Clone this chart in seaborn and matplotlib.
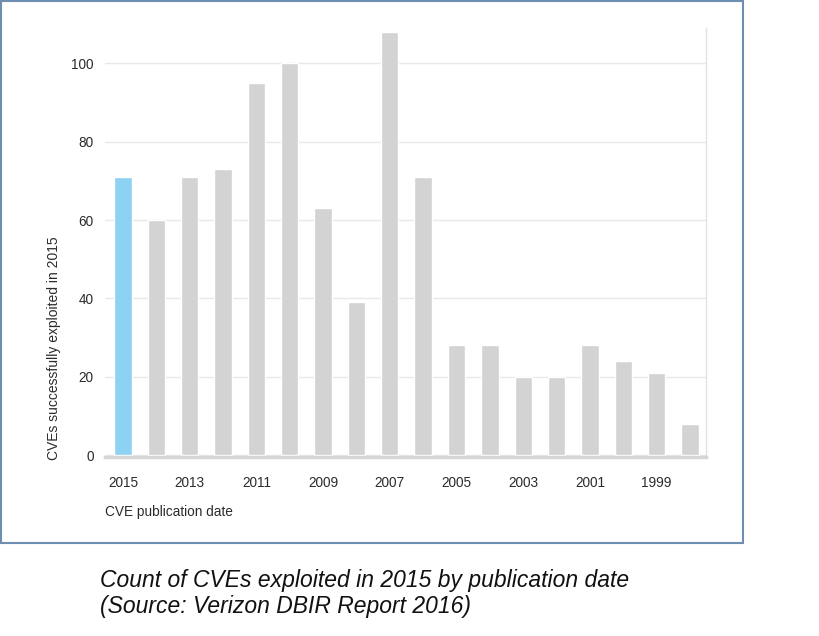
import pandas as pd
import seaborn as sns
import matplotlib.pyplot as plt
from matplotlib.patches import Rectangle

# data
years = [2015, 2014, 2013, 2012, 2011, 2010, 2009, 2008, 2007,
         2006, 2005, 2004, 2003, 2002, 2001, 2000, 1999, 1998]
counts = [71, 60, 71, 73, 95, 100, 63, 39, 108,
          71, 28, 28, 20, 20, 28, 24, 21, 8]
highlight_year = 2015
tick_years = [2015, 2013, 2011, 2009, 2007, 2005, 2003, 2001, 1999]
y_ticks = [0, 20, 40, 60, 80, 100]

df = pd.DataFrame({"year": [str(y) for y in years], "count": counts})
df["group"] = ["current" if y == highlight_year else "older" for y in years]

sns.set_theme(style="white")
plt.rcParams["font.family"] = ["Liberation Sans", "DejaVu Sans"]

fig = plt.figure(figsize=(8.2, 6.36), dpi=100)
ax = fig.add_axes([0.128, 0.2807, 0.733, 0.675])

sns.barplot(data=df, x="year", y="count", hue="group",
            order=[str(y) for y in years],
            palette={"current": "#8dd1f3", "older": "#d3d3d3"},
            saturation=1, width=0.52, dodge=False, legend=False, ax=ax)

ax.set_ylim(-0.6, 109)
ax.set_xlim(-0.54, 17.48)
ax.set_yticks(y_ticks)
ax.yaxis.grid(True, color="#e9e9e9", linewidth=1)
ax.set_axisbelow(True)
ax.set_xticks(range(len(years)))
ax.set_xticklabels([str(y) if y in tick_years else "" for y in years])
ax.tick_params(axis="x", length=0, pad=13, labelsize=9.8, labelcolor="#2b2b2b")
ax.tick_params(axis="y", length=0, pad=8, labelsize=9.8, labelcolor="#2b2b2b")
ax.set_xlabel("")
ax.set_ylabel("")

for side in ["left", "top"]:
    ax.spines[side].set_visible(False)
ax.spines["bottom"].set_color("#d6d6d6")
ax.spines["bottom"].set_linewidth(2.5)
ax.spines["right"].set_color("#e2e2e2")
ax.spines["right"].set_linewidth(1)

# axis titles placed like the source
fig.text(105 / 820, 1 - 512 / 636, "CVE publication date", ha="left", va="center",
         fontsize=9.8, color="#2b2b2b")
fig.text(54 / 820, 1 - 348 / 636, "CVEs successfully exploited in 2015", rotation=90,
         ha="center", va="center", fontsize=10, color="#2b2b2b")

# frame around the chart
fig.patches.append(Rectangle((0.001, (636 - 543) / 636), 742 / 820, 543 / 636 - 0.002,
                             transform=fig.transFigure, fill=False,
                             edgecolor="#6f8db0", linewidth=1.5))

# caption below the frame
fig.text(100 / 820, 1 - 580 / 636, "Count of CVEs exploited in 2015 by publication date",
         ha="left", va="center", fontsize=16.5, style="italic", color="#111111")
fig.text(100 / 820, 1 - 606 / 636, "(Source: Verizon DBIR Report 2016)",
         ha="left", va="center", fontsize=16.5, style="italic", color="#111111")

fig.savefig("out.png", dpi=100)
